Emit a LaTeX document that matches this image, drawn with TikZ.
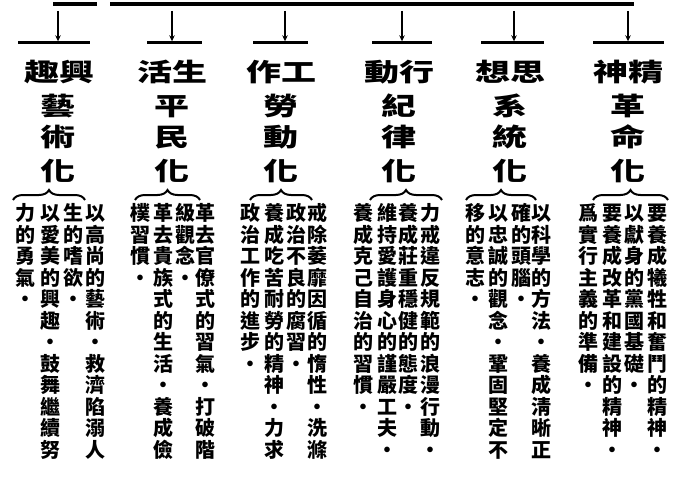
\documentclass[tikz,border=0pt]{standalone}
\usepackage{fontspec}
\newfontfamily\cjk{Noto Sans CJK TC}
\newfontfamily\cjkwide{Noto Sans CJK TC}[FakeStretch=1.4]
\usetikzlibrary{arrows.meta,decorations.pathreplacing}
\tikzset{
  bodych/.style={font=\cjk\bfseries\fontsize{20}{20}\selectfont, inner sep=0pt, text height=17.6pt, text depth=2.4pt},
  headch/.style={font=\cjkwide\bfseries\fontsize{25}{25}\selectfont, inner sep=0pt, text height=22pt, text depth=3pt},
  topline/.style={line width=4pt},
  barnode/.style={fill=black, draw=none, inner sep=0pt, minimum height=3pt},
  tickarrow/.style={line width=1.8pt, -{Stealth[length=6pt,width=5.5pt]}},
  bracket/.style={line width=2pt, decorate, decoration={brace, amplitude=10pt}},
}
\newcommand\vcol[3]{\foreach \chr [count=\i] in {#3} {\node[bodych] (#1-\i) at (#2,{-213-21.5*(\i-1)}) {\chr};}}
\begin{document}
\begin{tikzpicture}[x=1pt,y=1pt]
\useasboundingbox (0,0) rectangle (676,-476);
% top lines
\coordinate (tsA) at (53,-4);
\coordinate (tsB) at (97,-4);
\coordinate (tlA) at (110,-4);
\coordinate (tlB) at (634,-4);
\draw[topline] (tsA) -- (tsB);
\draw[topline] (tlA) -- (tlB);
% bars
\node[barnode, minimum width=72pt] (b1) at (54,-43) {};
\node[barnode, minimum width=55pt] (b2) at (174.5,-43) {};
\node[barnode, minimum width=55pt] (b3) at (280.5,-43) {};
\node[barnode, minimum width=60pt] (b4) at (402,-43) {};
\node[barnode, minimum width=63pt] (b5) at (512.5,-43) {};
\node[barnode, minimum width=71pt] (b6) at (628.5,-43) {};
% arrows
\coordinate (t1) at (58,-11);
\coordinate (t2) at (172,-11);
\coordinate (t3) at (285,-11);
\coordinate (t4) at (402,-11);
\coordinate (t5) at (514,-11);
\coordinate (t6) at (628,-11);
\foreach \k in {1,...,6} {\draw[tickarrow] (t\k) -- (b\k.north -| t\k);}
% headers
\node[headch] (h1a) at (59,-72) {趣興};
\node[headch] (h1b) at (58,-106) {藝};
\node[headch] (h1c) at (58,-137) {術};
\node[headch] (h1d) at (58,-171) {化};
\node[headch] (h2a) at (172,-72) {活生};
\node[headch] (h2b) at (172,-106) {平};
\node[headch] (h2c) at (172,-137) {民};
\node[headch] (h2d) at (172,-171) {化};
\node[headch] (h3a) at (281,-72) {作工};
\node[headch] (h3b) at (281,-106) {勞};
\node[headch] (h3c) at (281,-137) {動};
\node[headch] (h3d) at (281,-171) {化};
\node[headch] (h4a) at (399,-72) {動行};
\node[headch] (h4b) at (399,-106) {紀};
\node[headch] (h4c) at (399,-137) {律};
\node[headch] (h4d) at (399,-171) {化};
\node[headch] (h5a) at (510,-72) {想思};
\node[headch] (h5b) at (510,-106) {系};
\node[headch] (h5c) at (510,-137) {統};
\node[headch] (h5d) at (510,-171) {化};
\node[headch] (h6a) at (628,-72) {神精};
\node[headch] (h6b) at (628,-106) {革};
\node[headch] (h6c) at (628,-137) {命};
\node[headch] (h6d) at (628,-171) {化};
% braces
\coordinate (k1a) at (13,-200); \coordinate (k1b) at (85,-200);
\coordinate (k2a) at (135,-200); \coordinate (k2b) at (200,-200);
\coordinate (k3a) at (250,-200); \coordinate (k3b) at (312,-200);
\coordinate (k4a) at (370,-200); \coordinate (k4b) at (442,-200);
\coordinate (k5a) at (466,-200); \coordinate (k5b) at (536,-200);
\coordinate (k6a) at (593,-200); \coordinate (k6b) at (668,-200);
\foreach \k in {1,...,6} {\draw[bracket] (k\k a) -- (k\k b);}
% group 1
\vcol{g1c1}{95}{以,高,尚,的,藝,術,・,救,濟,陷,溺,人}
\vcol{g1c2}{73}{生,的,嗜,欲,・}
\vcol{g1c3}{50}{以,愛,美,的,興,趣,・,鼓,舞,繼,續,努}
\vcol{g1c4}{25}{力,的,勇,氣,・}
% group 2
\vcol{g2c1}{205}{革,去,官,僚,式,的,習,氣,・,打,破,階}
\vcol{g2c2}{185}{級,觀,念,・}
\vcol{g2c3}{163}{革,去,貴,族,式,的,生,活,・,養,成,儉}
\vcol{g2c4}{140}{樸,習,慣,・}
% group 3
\vcol{g3c1}{317}{戒,除,萎,靡,因,循,的,惰,性,・,洗,滌}
\vcol{g3c2}{296}{政,治,不,良,的,腐,習,・}
\vcol{g3c3}{274}{養,成,吃,苦,耐,勞,的,精,神,・,力,求}
\vcol{g3c4}{250}{政,治,工,作,的,進,步,・}
% group 4
\vcol{g4c1}{430}{力,戒,違,反,規,範,的,浪,漫,行,動,・}
\vcol{g4c2}{408}{養,成,莊,重,穩,健,的,態,度,・}
\vcol{g4c3}{387}{維,持,愛,護,身,心,的,謹,嚴,工,夫,・}
\vcol{g4c4}{363}{養,成,克,己,自,治,的,習,慣,・}
% group 5
\vcol{g5c1}{541}{以,科,學,的,方,法,・,養,成,淸,晰,正}
\vcol{g5c2}{521}{確,的,頭,腦,・}
\vcol{g5c3}{498}{以,忠,誠,的,觀,念,・,鞏,固,堅,定,不}
\vcol{g5c4}{475}{移,的,意,志,・}
% group 6
\vcol{g6c1}{657}{要,養,成,犧,牲,和,奮,鬥,的,精,神,・}
\vcol{g6c2}{634}{以,獻,身,的,黨,國,基,礎,・}
\vcol{g6c3}{612}{要,養,成,改,革,和,建,設,的,精,神,・}
\vcol{g6c4}{588}{爲,實,行,主,義,的,準,備,・}
\end{tikzpicture}
\end{document}
